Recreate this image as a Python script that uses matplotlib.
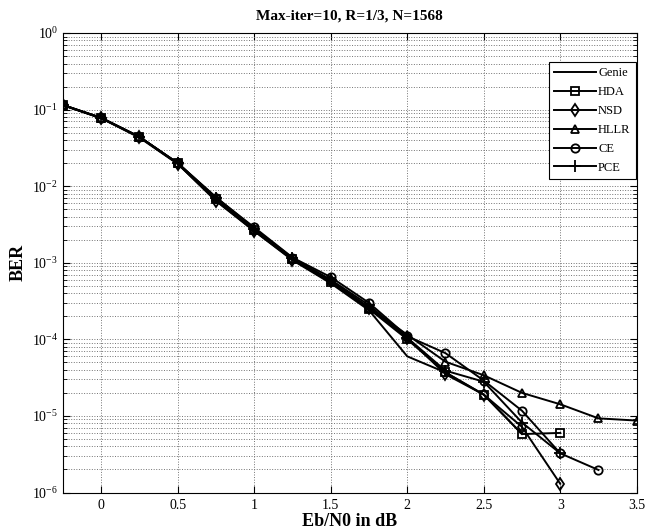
import numpy as np
import matplotlib.pyplot as plt
from matplotlib.ticker import LogLocator, NullFormatter, FixedLocator

plt.rcParams['font.family'] = ['Liberation Serif', 'DejaVu Serif']
plt.rcParams['mathtext.fontset'] = 'custom'
plt.rcParams['mathtext.rm'] = 'Liberation Serif'

# Eb/N0 points (dB)
ebn0 = [-0.25, 0, 0.25, 0.5, 0.75, 1.0, 1.25, 1.5, 1.75, 2.0, 2.25, 2.5, 2.75, 3.0, 3.25, 3.5]

# BER per decoder
genie = [0.115, 0.077, 0.043, 0.0195, 0.0065, 0.0026, 0.00108, 0.00054, 0.00024, 6.0e-5, 3.7e-5, 1.9e-5, 5.8e-6]
hda = [0.114, 0.078, 0.044, 0.0198, 0.0068, 0.0027, 0.00112, 0.00056, 0.00025, 1.0e-4, 3.7e-5, 1.9e-5, 5.8e-6, 6.0e-6]
nsd = [0.114, 0.077, 0.044, 0.0197, 0.0064, 0.0026, 0.0011, 0.00057, 0.00026, 1.05e-4, 3.5e-5, 1.9e-5, 7.2e-6, 1.3e-6]
hllr = [0.115, 0.078, 0.044, 0.0200, 0.0072, 0.0028, 0.00112, 0.00059, 0.00026, 1.15e-4, 5.1e-5, 3.4e-5, 2.0e-5, 1.42e-5, 9.3e-6, 8.7e-6]
ce = [0.115, 0.078, 0.044, 0.0200, 0.0071, 0.0029, 0.00117, 0.00065, 0.0003, 1.1e-4, 6.6e-5, 2.9e-5, 1.17e-5, 3.25e-6, 1.97e-6]
pce = [0.115, 0.078, 0.044, 0.0201, 0.0070, 0.0028, 0.00116, 0.0006, 0.00028, 1.05e-4, 3.9e-5, 2.8e-5, 8.2e-6, 3.25e-6]

xticks = [0, 0.5, 1, 1.5, 2, 2.5, 3, 3.5]
xticklabels = ['0', '0.5', '1', '1.5', '2', '2.5', '3', '3.5']

fig = plt.figure(figsize=(6.61, 5.32), dpi=100)
ax = fig.add_axes([0.0953, 0.0742, 0.868, 0.8637])

series = [('Genie', genie, 'None'), ('HDA', hda, 's'), ('NSD', nsd, 'd'),
          ('HLLR', hllr, '^'), ('CE', ce, 'o'), ('PCE', pce, '+')]
for name, vals, mk in series:
    ax.semilogy(ebn0[:len(vals)], vals, color='k', lw=1.4, marker=mk,
                markersize=6 if mk != '+' else 8, markerfacecolor='none',
                markeredgecolor='k', markeredgewidth=1.3, label=name)

ax.set_xlim(-0.25, 3.5)
ax.set_ylim(1e-6, 1)
ax.xaxis.set_major_locator(FixedLocator(xticks))
ax.set_xticklabels(xticklabels)
ax.yaxis.set_major_locator(LogLocator(base=10, numticks=10))
ax.yaxis.set_minor_locator(LogLocator(base=10, subs=np.arange(2, 10), numticks=10))
ax.yaxis.set_minor_formatter(NullFormatter())

ax.grid(True, which='major', color='0.45', linestyle=':', lw=0.7)
ax.grid(True, which='minor', axis='y', color='0.45', linestyle=':', lw=0.7)
ax.tick_params(which='both', direction='in', top=True, right=True, labelsize=10)
ax.tick_params(which='major', length=5)
ax.tick_params(which='minor', length=3)
ax.tick_params(axis='x', pad=4.5)

ax.set_title('Max-iter=10, R=1/3, N=1568', fontsize=11, fontweight='bold', pad=10)
ax.set_xlabel('Eb/N0 in dB', fontsize=13, fontweight='bold', labelpad=1)
ax.set_ylabel('BER', fontsize=13, fontweight='bold', labelpad=4)

leg = ax.legend(loc='upper right', bbox_to_anchor=(0.999, 0.9375), borderaxespad=0,
                fontsize=9, frameon=True, fancybox=False, edgecolor='k', framealpha=1,
                handlelength=3.3, handletextpad=0.2, borderpad=0.45, labelspacing=0.55)
leg.get_frame().set_linewidth(0.8)

plt.savefig('out.png', dpi=100)
